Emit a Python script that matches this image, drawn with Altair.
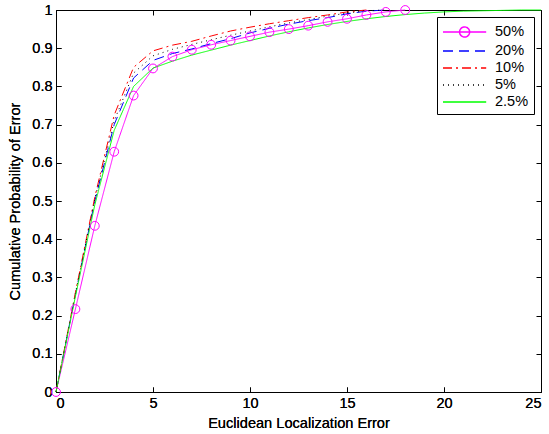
import altair as alt
import pandas as pd

# Series labels, colours and dash patterns
series_names = ["50%", "20%", "10%", "5%", "2.5%"]
series_colors = ["#ff00ff", "#0000ff", "#ff0000", "#000000", "#00ff00"]
series_dashes = [[1, 0], [10, 6], [9, 4, 2, 4], [1, 4], [1, 0]]

# Cumulative probability of localization error for each series
err_50 = list(range(0, 19))
cdf_50 = [0, 0.217, 0.435, 0.629, 0.776, 0.847, 0.878, 0.896, 0.909, 0.92,
          0.931, 0.942, 0.95, 0.959, 0.969, 0.977, 0.987, 0.995, 1.0]

err_20 = list(range(0, 18))
cdf_20 = [0, 0.255, 0.5, 0.70, 0.822, 0.868, 0.886, 0.898, 0.912, 0.925,
          0.94, 0.952, 0.963, 0.972, 0.98, 0.99, 0.997, 1.0]

err_10 = list(range(0, 17))
cdf_10 = [0, 0.26, 0.51, 0.725, 0.85, 0.893, 0.908, 0.918, 0.932, 0.945,
          0.955, 0.964, 0.972, 0.98, 0.987, 0.995, 1.0]

err_5 = list(range(0, 18))
cdf_5 = [0, 0.258, 0.505, 0.71, 0.835, 0.88, 0.897, 0.91, 0.922, 0.934,
         0.945, 0.956, 0.966, 0.975, 0.984, 0.992, 0.998, 1.0]

err_2_5 = list(range(0, 26))
cdf_2_5 = [0, 0.25, 0.49, 0.685, 0.80, 0.848, 0.866, 0.882, 0.895, 0.908,
           0.92, 0.932, 0.943, 0.953, 0.962, 0.97, 0.977, 0.983, 0.988, 0.992,
           0.995, 0.997, 0.998, 0.999, 1.0, 1.0]

x_ticks = [0, 5, 10, 15, 20, 25]
y_ticks = [0, 0.1, 0.2, 0.3, 0.4, 0.5, 0.6, 0.7, 0.8, 0.9, 1.0]

rows = []
for name, xs, ys in zip(series_names,
                        [err_50, err_20, err_10, err_5, err_2_5],
                        [cdf_50, cdf_20, cdf_10, cdf_5, cdf_2_5]):
    for i, (xv, yv) in enumerate(zip(xs, ys)):
        rows.append({"err": xv, "cdf": yv, "series": name, "idx": i})
df = pd.DataFrame(rows)

FONT = "Liberation Sans"
LABEL_SIZE = 14.5
TITLE_SIZE = 14.6

# Legend symbols: a line sample (unit = 9 px), with a ring on the 50% entry
line_path = "M-1,0L3.8,0"
ring = 0.56
cx = 1.4
ring_path = (f"M-1,0L3.8,0M{cx - ring},0A{ring},{ring},0,1,1,{cx + ring},0"
             f"A{ring},{ring},0,1,1,{cx - ring},0Z")
legend_shapes = [ring_path, line_path, line_path, line_path, line_path]

legend = alt.Legend(
    title=None, orient="none", legendX=381, legendY=7,
    strokeColor="black", fillColor="white", padding=5,
    symbolSize=324, symbolStrokeWidth=1.5,
    labelFont=FONT, labelFontSize=LABEL_SIZE,
    labelColor="black", labelOffset=33, rowPadding=0,
)

x_scale = alt.Scale(domain=[0, 25], nice=False, zero=False)
y_scale = alt.Scale(domain=[0, 1], nice=False, zero=False)
color_scale = alt.Scale(domain=series_names, range=series_colors)
dash_scale = alt.Scale(domain=series_names, range=series_dashes)
shape_scale = alt.Scale(domain=series_names, range=legend_shapes)

x_axis = alt.Axis(
    values=x_ticks, orient="bottom", offset=-5, tickSize=5, domain=False,
    grid=False, labelPadding=4, title="Euclidean Localization Error",
    titlePadding=6, labelFont=FONT, titleFont=FONT, labelFontSize=LABEL_SIZE,
    titleFontSize=TITLE_SIZE, titleFontWeight="normal", labelColor="black",
    titleColor="black", tickColor="black",
)
y_axis = alt.Axis(
    values=y_ticks, orient="left", offset=-5, tickSize=5, domain=False,
    grid=False, labelPadding=4, format="~g",
    title="Cumulative Probability of Error", titlePadding=9,
    labelFont=FONT, titleFont=FONT, labelFontSize=LABEL_SIZE,
    titleFontSize=TITLE_SIZE, titleFontWeight="normal", labelColor="black",
    titleColor="black", tickColor="black",
)
x_axis_top = alt.Axis(values=x_ticks, orient="top", offset=-5, tickSize=5,
                      domain=False, grid=False, labels=False, title=None,
                      tickColor="black")
y_axis_right = alt.Axis(values=y_ticks, orient="right", offset=-5, tickSize=5,
                        domain=False, grid=False, labels=False, title=None,
                        tickColor="black")

base = alt.Chart(df)

lines = base.mark_line(strokeWidth=1).encode(
    x=alt.X("err:Q", scale=x_scale, axis=x_axis),
    y=alt.Y("cdf:Q", scale=y_scale, axis=y_axis),
    color=alt.Color("series:N", scale=color_scale, legend=None,
                    sort=series_names),
    strokeDash=alt.StrokeDash("series:N", scale=dash_scale, legend=None,
                              sort=series_names),
    detail="series:N",
    order="idx:Q",
)

markers = base.transform_filter(alt.datum.series == "50%").mark_point(
    shape="circle", filled=False, size=78, strokeWidth=1, color="#ff00ff",
    opacity=1,
).encode(
    x=alt.X("err:Q", scale=x_scale, axis=x_axis),
    y=alt.Y("cdf:Q", scale=y_scale, axis=y_axis),
)

# Empty layer: carries the legend symbols and the top/right tick marks
frame_ticks = base.transform_filter("false").mark_point(
    filled=False, strokeWidth=1, opacity=1
).encode(
    x=alt.X("err:Q", scale=x_scale, axis=x_axis_top),
    y=alt.Y("cdf:Q", scale=y_scale, axis=y_axis_right),
    color=alt.Color("series:N", scale=color_scale, legend=legend,
                    sort=series_names),
    strokeDash=alt.StrokeDash("series:N", scale=dash_scale, legend=legend,
                              sort=series_names),
    shape=alt.Shape("series:N", scale=shape_scale, legend=legend,
                    sort=series_names),
)

chart = alt.layer(frame_ticks, lines, markers).resolve_axis(
    x="independent", y="independent"
).properties(
    width=485, height=382,
    padding={"left": 56, "top": 10, "right": 8, "bottom": 42},
    autosize=alt.AutoSizeParams(type="none"),
    background="white",
).configure_view(stroke="black", strokeWidth=1)

chart.save("out.html", embed_options={"renderer": "svg", "actions": False})
